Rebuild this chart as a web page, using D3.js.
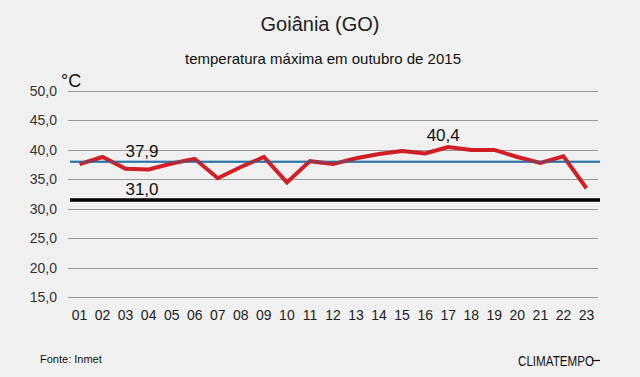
<!DOCTYPE html>
<html><head><meta charset="utf-8">
<script src="https://cdn.jsdelivr.net/npm/d3@7"></script>
<style>
html,body{margin:0;padding:0;background:#f0f0f0;}
svg{display:block;font-family:"Liberation Sans",Arial,sans-serif;}
</style></head><body>
<svg id="c" width="640" height="377"></svg>
<script>
const days = ["01","02","03","04","05","06","07","08","09","10","11","12","13","14","15","16","17","18","19","20","21","22","23"];
const tmax = [37.6,38.8,36.8,36.7,37.7,38.5,35.2,37.1,38.8,34.5,38.1,37.6,38.6,39.3,39.8,39.4,40.5,40.0,40.0,38.8,37.8,38.9,33.5];
const yTicks = [15,20,25,30,35,40,45,50];
const avgLine = {value: 38.0, label: "37,9"};
const minLine = {value: 31.5, label: "31,0"};
const maxLabel = {day: "17", label: "40,4"};

const svg = d3.select("#c");
svg.append("rect").attr("width",640).attr("height",377).attr("fill","#f0f0f0");

const x = d3.scaleBand().domain(days).range([68,598]);
const y = d3.scaleLinear().domain([15,50]).range([297.3,91]);
const fmt = v => d3.format(".1f")(v).replace(".", ",");

// gridlines
svg.append("g").selectAll("line").data(yTicks).join("line")
  .attr("x1",68).attr("x2",598)
  .attr("y1",d=>Math.round(y(d))+0.5).attr("y2",d=>Math.round(y(d))+0.5)
  .attr("stroke","#9a9a9a").attr("stroke-width",1);

// y tick labels
svg.append("g").selectAll("text").data(yTicks).join("text")
  .attr("x",57).attr("y",d=>y(d)+5)
  .attr("text-anchor","end").attr("font-size",14).attr("fill","#333")
  .text(fmt);

// x tick labels
svg.append("g").selectAll("text").data(days).join("text")
  .attr("x",d=>x(d)+x.bandwidth()/2).attr("y",320)
  .attr("text-anchor","middle").attr("font-size",14).attr("fill","#222")
  .text(d=>d);

// min line
svg.append("line").attr("x1",70).attr("x2",600)
  .attr("y1",y(minLine.value)).attr("y2",y(minLine.value))
  .attr("stroke","#000").attr("stroke-width",3.5);
// average line
svg.append("line").attr("x1",70).attr("x2",600)
  .attr("y1",y(avgLine.value)).attr("y2",y(avgLine.value))
  .attr("stroke","#2a72a8").attr("stroke-width",2);

// red line
const line = d3.line().x((d,i)=>x(days[i])+x.bandwidth()/2).y(d=>y(d));
svg.append("path").datum(tmax).attr("d",line)
  .attr("fill","none").attr("stroke","#d0121b").attr("stroke-width",4)
  .attr("stroke-linejoin","miter").attr("opacity",0.95);

// redraw blue over red slightly (blend effect)
svg.append("line").attr("x1",70).attr("x2",600)
  .attr("y1",y(avgLine.value)).attr("y2",y(avgLine.value))
  .attr("stroke","#2a72a8").attr("stroke-width",2).attr("opacity",0.45);

// labels
svg.append("text").attr("x",142).attr("y",y(avgLine.value)-4.5)
  .attr("text-anchor","middle").attr("font-size",17).attr("fill","#111").text(avgLine.label);
svg.append("text").attr("x",142).attr("y",y(minLine.value)-5)
  .attr("text-anchor","middle").attr("font-size",17).attr("fill","#111").text(minLine.label);
svg.append("text").attr("x",x(maxLabel.day)+x.bandwidth()/2-5).attr("y",140.5)
  .attr("text-anchor","middle").attr("font-size",17).attr("fill","#111").text(maxLabel.label);

// unit
svg.append("text").attr("x",61).attr("y",87).attr("font-size",18).attr("fill","#111").text("°C");

// titles
svg.append("text").attr("x",320).attr("y",31).attr("text-anchor","middle")
  .attr("font-size",20).attr("fill","#222").text("Goiânia (GO)");
svg.append("text").attr("x",323).attr("y",64).attr("text-anchor","middle")
  .attr("font-size",15).attr("fill","#111").text("temperatura máxima em outubro de 2015");

// footer
svg.append("text").attr("x",40).attr("y",363).attr("font-size",11).attr("fill","#111").text("Fonte: Inmet");
svg.append("text").attr("x",518).attr("y",366).attr("font-size",15).attr("fill","#111")
  .attr("textLength",76).attr("lengthAdjust","spacingAndGlyphs").text("CLIMATEMPO");
svg.append("line").attr("x1",592).attr("x2",600).attr("y1",360.5).attr("y2",360.5)
  .attr("stroke","#111").attr("stroke-width",1.2);
</script>
</body></html>
